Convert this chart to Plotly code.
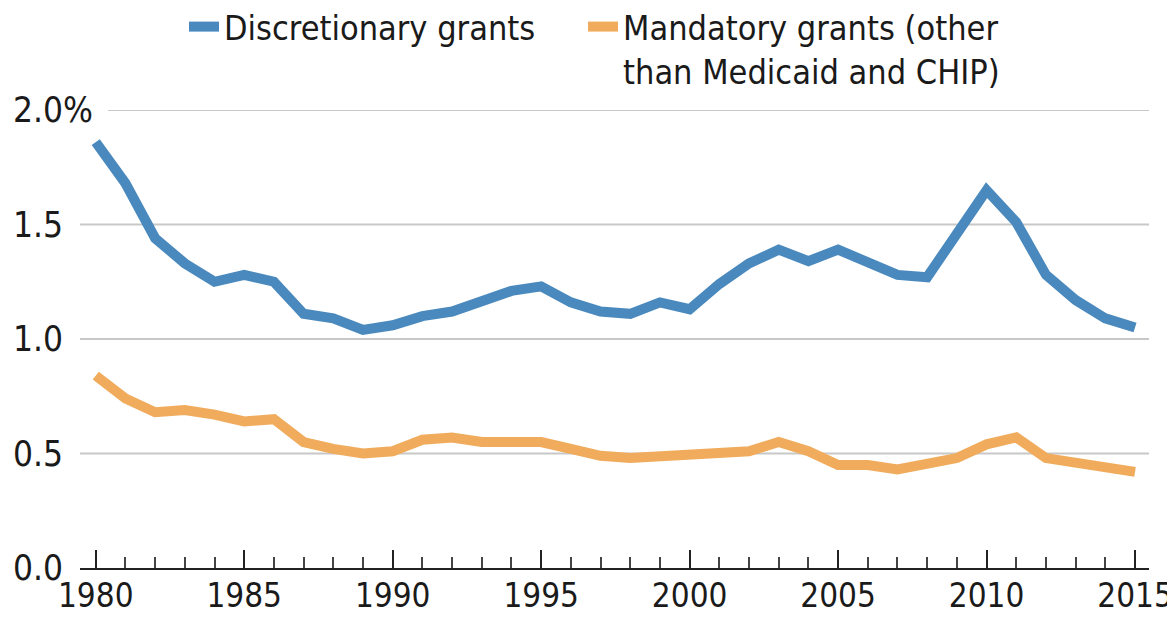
import plotly.graph_objects as go

years = list(range(1980, 2016))
discretionary = [1.86, 1.68, 1.44, 1.33, 1.25, 1.28, 1.25, 1.11, 1.09, 1.04,
                 1.06, 1.10, 1.12, 1.16, 1.21, 1.23, 1.16, 1.12, 1.11, 1.16,
                 1.13, 1.24, 1.33, 1.39, 1.34, 1.39, 1.34, 1.28, 1.27, 1.46,
                 1.65, 1.51, 1.28, 1.17, 1.09, 1.05]
mandatory = [0.84, 0.74, 0.68, 0.69, 0.67, 0.64, 0.65, 0.55, 0.52, 0.50,
             0.51, 0.56, 0.57, 0.55, 0.55, 0.55, 0.52, 0.49, 0.48, 0.49,
             0.49, 0.51, 0.51, 0.55, 0.51, 0.45, 0.45, 0.43, 0.45, 0.48,
             0.54, 0.57, 0.48, 0.46, 0.44, 0.42]
series_names = ["Discretionary grants", "Mandatory grants (other<br>than Medicaid and CHIP)"]
y_ticks = [0.0, 0.5, 1.0, 1.5, 2.0]
y_tick_labels = ["0.0", "0.5", "1.0", "1.5", "2.0%"]
x_ticks = [1980, 1985, 1990, 1995, 2000, 2005, 2010, 2015]

FONT = "DejaVu Sans Condensed, Liberation Sans Narrow, sans-serif"
TXT = "#1a1a1a"
BLUE = "#4a89bd"
ORANGE = "#f0ac5c"

# the page body adds an 8px offset; sizes below are in figure pixels
W, H = 1175, 609
ml, mr, mt, mb = 72, 34, 102, 49
pw = W - ml - mr
ph = H - mt - mb

fig = go.Figure()
fig.add_trace(go.Scatter(x=years, y=discretionary, mode="lines", name=series_names[0],
                         legend="legend",
                         line=dict(color=BLUE, width=10, shape="linear")))
fig.add_trace(go.Scatter(x=years, y=mandatory, mode="lines", name=series_names[1],
                         legend="legend2",
                         line=dict(color=ORANGE, width=10, shape="linear")))

shapes = []
for v in y_ticks[1:]:
    x0 = 0 if v < 2.0 else (100 - ml) / pw
    shapes.append(dict(type="line", xref="paper", yref="y", x0=x0, x1=1, y0=v, y1=v,
                       line=dict(color="#c8c8c8", width=2), layer="below"))

annotations = []
for v, t in zip(y_ticks, y_tick_labels):
    annotations.append(dict(xref="paper", yref="y", x=(3 - ml) / pw, y=v, text=t,
                            showarrow=False, xanchor="left", yanchor="middle",
                            font=dict(family=FONT, size=35, color=TXT)))

legend_common = dict(orientation="h", xref="paper", yref="paper", xanchor="left",
                     y=1 + (mt + 10) / ph, yanchor="top",
                     font=dict(family=FONT, size=34, color=TXT), valign="top",
                     bgcolor="rgba(0,0,0,0)", tracegroupgap=0)

fig.update_layout(
    width=W, height=H,
    margin=dict(l=ml, r=mr, t=mt, b=mb, autoexpand=False),
    paper_bgcolor="white", plot_bgcolor="white",
    font=dict(family=FONT, size=34, color=TXT),
    shapes=shapes, annotations=annotations,
    legend=dict(x=(176 - ml) / pw, **legend_common),
    legend2=dict(x=(575 - ml) / pw, **legend_common),
    xaxis=dict(range=[1979.47, 2015.47], tickmode="array", tickvals=x_ticks,
               ticks="inside", ticklen=18, tickwidth=2, tickcolor="#222",
               showline=True, linecolor="#222", linewidth=2, showgrid=False,
               zeroline=False, automargin=False, ticklabeloverflow="allow",
               ticklabelstandoff=-3,
               tickfont=dict(family=FONT, size=33, color=TXT),
               minor=dict(dtick=1, tick0=1980, ticks="inside", ticklen=11,
                          tickwidth=2, tickcolor="#444", showgrid=False)),
    yaxis=dict(range=[0, 2.0], showgrid=False, zeroline=False, showticklabels=False,
               showline=False, ticks="", automargin=False),
    showlegend=True,
)

fig.write_html("out.html")
